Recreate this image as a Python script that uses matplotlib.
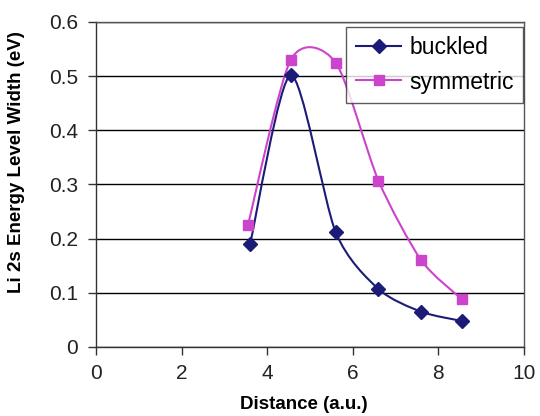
import numpy as np
import matplotlib
matplotlib.use("Agg")
import matplotlib.pyplot as plt
from matplotlib.path import Path
from matplotlib.patches import PathPatch

plt.rcParams['font.family'] = ['Liberation Sans', 'DejaVu Sans']

buckled_x = [3.6, 4.55, 5.6, 6.6, 7.6, 8.55]
buckled_y = [0.19, 0.502, 0.212, 0.107, 0.065, 0.048]
sym_x = [3.55, 4.55, 5.6, 6.6, 7.6, 8.55]
sym_y = [0.225, 0.53, 0.525, 0.307, 0.16, 0.088]

x_ticks = [0, 2, 4, 6, 8, 10]
y_ticks = [0, 0.1, 0.2, 0.3, 0.4, 0.5, 0.6]

navy = '#1c1c78'
magenta = '#cc44cc'


def smooth_path(xs, ys, k=0.13):
    # Excel-style smoothed line: cubic Bezier segments (Catmull-Rom control points)
    pts = np.column_stack([xs, ys])
    n = len(pts)
    verts = [pts[0]]
    codes = [Path.MOVETO]
    for i in range(n - 1):
        p0 = pts[i - 1] if i > 0 else pts[i]
        p1 = pts[i]
        p2 = pts[i + 1]
        p3 = pts[i + 2] if i + 2 < n else pts[i + 1]
        c1 = p1 + (p2 - p0) * k
        c2 = p2 - (p3 - p1) * k
        verts += [c1, c2, p2]
        codes += [Path.CURVE4] * 3
    return Path(verts, codes)


fig = plt.figure(figsize=(5.4, 4.16), dpi=100)
ax = fig.add_axes([96 / 540, 1 - 347 / 416, (524 - 96) / 540, (347 - 22) / 416])

for xs, ys, c in [(sym_x, sym_y, magenta), (buckled_x, buckled_y, navy)]:
    ax.add_patch(PathPatch(smooth_path(xs, ys), facecolor='none', edgecolor=c, lw=1.5, zorder=3))

ax.plot(buckled_x, buckled_y, linestyle='none', marker='D', ms=7, color=navy, zorder=4)
ax.plot(sym_x, sym_y, linestyle='none', marker='s', ms=7, color=magenta, zorder=4)

# legend proxies
ax.plot([], [], '-', marker='D', ms=7, color=navy, lw=1.5, label='buckled')
ax.plot([], [], '-', marker='s', ms=7, color=magenta, lw=1.5, label='symmetric')

ax.set_xlim(0, 10)
ax.set_ylim(0, 0.6)
ax.set_xticks(x_ticks)
ax.set_yticks(y_ticks)
ax.set_xticklabels([str(t) for t in x_ticks])
ax.set_yticklabels(['0', '0.1', '0.2', '0.3', '0.4', '0.5', '0.6'])
ax.yaxis.grid(True, color='black', lw=1.0)
ax.set_axisbelow(True)
ax.tick_params(axis='both', direction='out', length=6, width=1, labelsize=15,
               colors='#333333', labelcolor='#222222')
ax.tick_params(axis='y', pad=7)
ax.tick_params(axis='x', pad=6)
for s in ax.spines.values():
    s.set_color('#555555')
    s.set_linewidth(1.0)
ax.spines['left'].set_color('#333333')
ax.spines['bottom'].set_color('#333333')

ax.set_xlabel('Distance (a.u.)', fontsize=13.5, fontweight='bold')
ax.xaxis.set_label_coords(0.485, -0.152)
ax.set_ylabel('Li 2s Energy Level Width (eV)', fontsize=13.5, fontweight='bold')
ax.yaxis.set_label_coords(-0.165, 0.57)

leg = ax.legend(loc='upper right', bbox_to_anchor=(0.998, 0.985), fontsize=16.5, frameon=True,
                fancybox=False, edgecolor='#333333', handlelength=2.0, borderpad=0.4,
                labelspacing=0.5, handletextpad=0.35, borderaxespad=0)
leg.get_frame().set_linewidth(1.0)

fig.savefig('out.png', dpi=100)
